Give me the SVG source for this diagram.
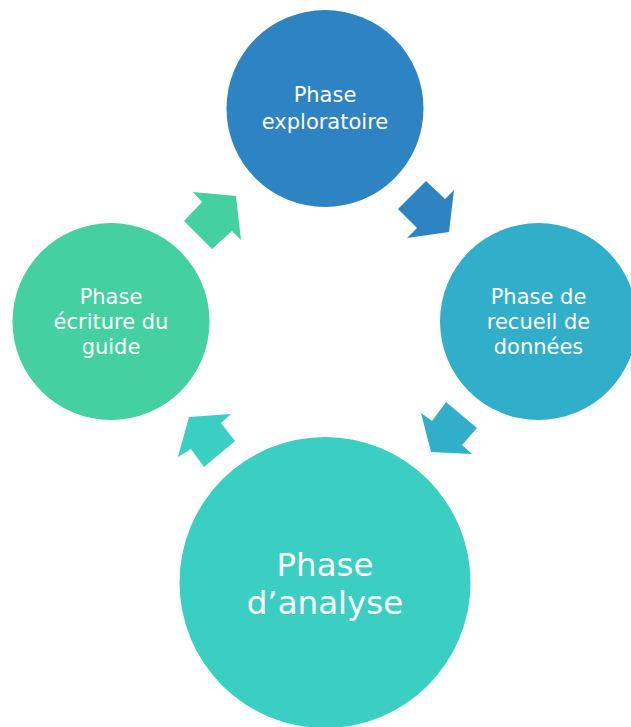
<svg xmlns="http://www.w3.org/2000/svg" width="631" height="727" viewBox="0 0 631 727">
<style>
text{font-family:"DejaVu Sans",Verdana,sans-serif;fill:#ffffff;text-anchor:middle}
.s{font-size:21px}
.b{font-size:32.5px}
.c1{fill:#2E83C3}
.c2{fill:#31AFCA}
.c3{fill:#3BCFC3}
.c4{fill:#45D0A1}
</style>
<rect width="631" height="727" fill="#ffffff"/>
<g id="connectors">
<polygon class="c4" points="184,221 202,202 193,192 236,196 241,240 232,231 212,249"/>
<polygon class="c1" points="398,209 426,181 445,199 454,190 449,232 407,238 417,228"/>
<polygon class="c2" points="446,402 477,428 462,445 472,454 431,452 421,413 432,421"/>
<polygon class="c3" points="235,441 204,467 191,449 178,457 189,417 231,414 221,423"/>
</g>
<g id="node-exploratoire">
<circle class="c1" cx="325" cy="108.5" r="98.5"/>
<text class="s" x="325" y="101.5">Phase</text>
<text class="s" x="325" y="128.5">exploratoire</text>
</g>
<g id="node-recueil">
<circle class="c2" cx="538.5" cy="321.5" r="98.5"/>
<text class="s" x="538.5" y="303.5">Phase de</text>
<text class="s" x="538.5" y="328.5">recueil de</text>
<text class="s" x="538.5" y="353.5">données</text>
</g>
<g id="node-analyse">
<circle class="c3" cx="325" cy="582.5" r="145.5"/>
<text class="b" x="325" y="575.5">Phase</text>
<text class="b" x="325" y="613.5">d’analyse</text>
</g>
<g id="node-ecriture">
<circle class="c4" cx="111" cy="321.5" r="98.5"/>
<text class="s" x="111" y="304">Phase</text>
<text class="s" x="111" y="329">écriture du</text>
<text class="s" x="111" y="354">guide</text>
</g>
</svg>
